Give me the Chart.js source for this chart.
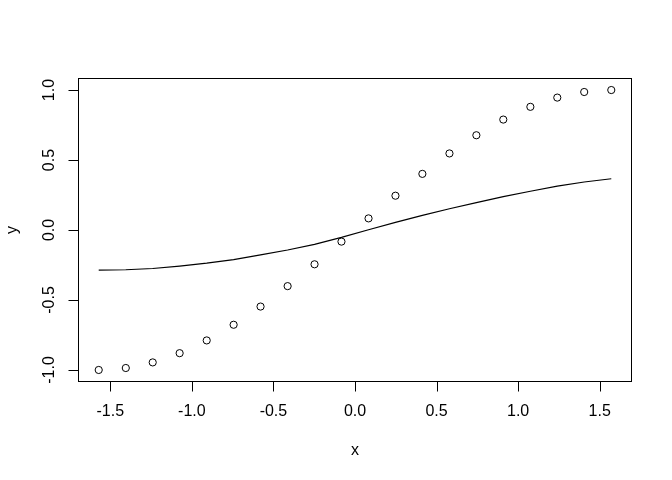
<!DOCTYPE html>
<html>
<head>
<meta charset="utf-8">
<script src="https://cdn.jsdelivr.net/npm/chart.js@4"></script>
<style>
  html, body { margin: 0; padding: 0; background: #fff; }
  #wrap { width: 672px; height: 480px; }
</style>
</head>
<body>
<div id="wrap"><canvas id="myChart" width="672" height="480"></canvas></div>
<script>
// x positions of the samples
const xs = [-1.571, -1.405, -1.240, -1.075, -0.909, -0.744, -0.579, -0.413, -0.248, -0.083,
            0.083, 0.248, 0.413, 0.579, 0.744, 0.909, 1.075, 1.240, 1.405, 1.571];
// open circles
const yPoints = [-1.000, -0.986, -0.946, -0.880, -0.789, -0.677, -0.547, -0.401, -0.245, -0.083,
                 0.083, 0.245, 0.401, 0.547, 0.677, 0.789, 0.880, 0.946, 0.986, 1.000];
// solid line
const yLine = [-0.286, -0.284, -0.275, -0.258, -0.237, -0.211, -0.178, -0.143, -0.103, -0.053,
               0.002, 0.055, 0.104, 0.152, 0.195, 0.238, 0.277, 0.313, 0.343, 0.366];

const xTicks = [-1.5, -1.0, -0.5, 0.0, 0.5, 1.0, 1.5];
const xTickLabels = ['-1.5', '-1.0', '-0.5', '0.0', '0.5', '1.0', '1.5'];
const yTicks = [-1.0, -0.5, 0.0, 0.5, 1.0];
const yTickLabels = ['-1.0', '-0.5', '0.0', '0.5', '1.0'];

const FONT = '16px "Liberation Sans", Arial, sans-serif';

// R style box + axes, drawn by hand
const rAxes = {
    id: 'rAxes',
    afterDraw(chart) {
        const ctx = chart.ctx;
        const a = chart.chartArea;
        const sx = chart.scales.x, sy = chart.scales.y;
        ctx.save();
        ctx.strokeStyle = '#000';
        ctx.lineWidth = 1;
        ctx.fillStyle = '#000';
        ctx.font = FONT;

        // box
        ctx.strokeRect(a.left + 0.5, a.top + 0.5, a.right - a.left - 1, a.bottom - a.top - 1);

        // x axis
        const by = a.bottom - 0.5;
        ctx.beginPath();
        ctx.moveTo(Math.round(sx.getPixelForValue(xTicks[0])) + 0.5, by);
        ctx.lineTo(Math.round(sx.getPixelForValue(xTicks[xTicks.length - 1])) + 0.5, by);
        xTicks.forEach(function(t) {
            const px = Math.round(sx.getPixelForValue(t)) + 0.5;
            ctx.moveTo(px, by);
            ctx.lineTo(px, by + 10);
        });
        ctx.stroke();
        ctx.textAlign = 'center';
        ctx.textBaseline = 'middle';
        xTicks.forEach(function(t, i) {
            ctx.fillText(xTickLabels[i], sx.getPixelForValue(t), 412);
        });
        ctx.fillText('x', (a.left + a.right) / 2, 451);

        // y axis
        const bx = a.left + 0.5;
        ctx.beginPath();
        ctx.moveTo(bx, Math.round(sy.getPixelForValue(yTicks[0])) + 0.5);
        ctx.lineTo(bx, Math.round(sy.getPixelForValue(yTicks[yTicks.length - 1])) + 0.5);
        yTicks.forEach(function(t) {
            const py = Math.round(sy.getPixelForValue(t)) + 0.5;
            ctx.moveTo(bx, py);
            ctx.lineTo(bx - 10, py);
        });
        ctx.stroke();
        yTicks.forEach(function(t, i) {
            ctx.save();
            ctx.translate(50, sy.getPixelForValue(t));
            ctx.rotate(-Math.PI / 2);
            ctx.fillText(yTickLabels[i], 0, 0);
            ctx.restore();
        });
        ctx.save();
        ctx.translate(13, (a.top + a.bottom) / 2);
        ctx.rotate(-Math.PI / 2);
        ctx.fillText('y', 0, 0);
        ctx.restore();

        ctx.restore();
    }
};

const ctx = document.getElementById('myChart').getContext('2d');
const myChart = new Chart(ctx, {
    type: 'scatter',
    data: {
        datasets: [{
            label: 'points',
            data: xs.map(function(x, i) { return { x: x, y: yPoints[i] }; }),
            showLine: false,
            pointStyle: 'circle',
            pointRadius: 3.6,
            pointBorderWidth: 1,
            pointBorderColor: '#000',
            pointBackgroundColor: 'rgba(0,0,0,0)'
        }, {
            label: 'line',
            data: xs.map(function(x, i) { return { x: x, y: yLine[i] }; }),
            showLine: true,
            borderColor: '#000',
            borderWidth: 1.2,
            pointRadius: 0,
            tension: 0,
            fill: false
        }]
    },
    options: {
        responsive: false,
        animation: false,
        layout: { padding: { left: 78, top: 78, right: 40, bottom: 98 } },
        plugins: {
            legend: { display: false },
            tooltip: { enabled: false }
        },
        scales: {
            x: { type: 'linear', min: -1.698, max: 1.698, display: false },
            y: { type: 'linear', min: -1.086, max: 1.086, display: false }
        }
    },
    plugins: [rAxes]
});
</script>
</body>
</html>
